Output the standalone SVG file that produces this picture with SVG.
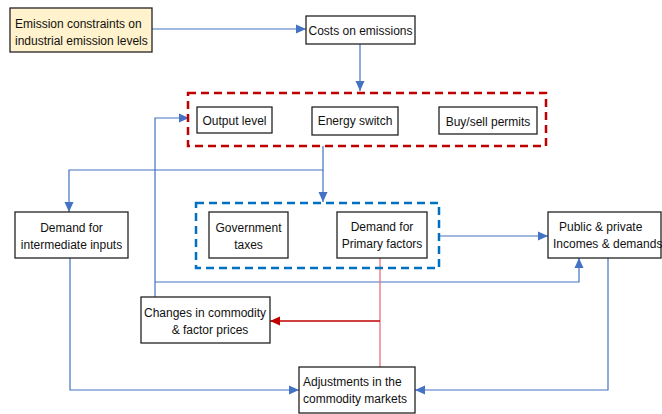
<svg xmlns="http://www.w3.org/2000/svg" width="662" height="414" viewBox="0 0 662 414">
<style>
.box{fill:#fff;stroke:#222;stroke-width:1.3}
.t{font-family:"Liberation Sans",Arial,sans-serif;font-size:12px;fill:#111}
.c{text-anchor:middle}
.ln{fill:none;stroke:#4472C4;stroke-width:1.2}
</style>
<defs>
<marker id="ab" markerUnits="userSpaceOnUse" markerWidth="10" markerHeight="10" viewBox="0 0 10 10" refX="10" refY="5" orient="auto"><path d="M0,0.5 L10,5 L0,9.5 Z" fill="#4472C4"/></marker>
<marker id="ar" markerUnits="userSpaceOnUse" markerWidth="10" markerHeight="10" viewBox="0 0 10 10" refX="10" refY="5" orient="auto"><path d="M0,0.5 L10,5 L0,9.5 Z" fill="#C00000"/></marker>
</defs>
<rect width="662" height="414" fill="#fff"/>
<g id="connectors">
<path class="ln" d="M152,29 H306" marker-end="url(#ab)"/>
<path class="ln" d="M360,44 V91" marker-end="url(#ab)"/>
<path class="ln" d="M323,146 V170 H69 V212" marker-end="url(#ab)"/>
<path class="ln" d="M323,170 V202" marker-end="url(#ab)"/>
<path class="ln" d="M155,297 V118 H189" marker-end="url(#ab)"/>
<path class="ln" d="M155,282 H579 V258" marker-end="url(#ab)"/>
<path class="ln" d="M439,236 H548" marker-end="url(#ab)"/>
<path fill="none" stroke="#E8737A" stroke-width="1.3" d="M380,258 V367"/>
<path fill="none" stroke="#C00000" stroke-width="1.3" d="M380,321 H270" marker-end="url(#ar)"/>
<path class="ln" d="M70,258 V390 H299" marker-end="url(#ab)"/>
<path class="ln" d="M608,258 V390 H415" marker-end="url(#ab)"/>
</g>
<g id="red-group"><rect x="188" y="93" width="358" height="53" fill="none" stroke="#C00000" stroke-width="2.5" stroke-dasharray="8,5"/></g>
<g id="blue-group"><rect x="196" y="203" width="243" height="65" fill="none" stroke="#0070C0" stroke-width="2.5" stroke-dasharray="8,5"/></g>
<g id="emission"><rect x="10" y="8" width="142" height="44" fill="#FFF2CC" stroke="#222" stroke-width="1.3"/>
<text class="t" x="15" y="28">Emission constraints on</text><text class="t" x="15" y="45">industrial emission levels</text></g>
<g id="costs"><rect class="box" x="306" y="16" width="109" height="28"/><text class="t c" x="360.5" y="35">Costs on emissions</text></g>
<g id="output"><rect class="box" x="197" y="107" width="75" height="26"/><text class="t c" x="234.5" y="125">Output level</text></g>
<g id="energy"><rect class="box" x="312" y="107" width="86" height="28"/><text class="t c" x="355" y="125">Energy switch</text></g>
<g id="permits"><rect class="box" x="439" y="107" width="98" height="27"/><text class="t c" x="488" y="126">Buy/sell permits</text></g>
<g id="intermediate"><rect class="box" x="15" y="212" width="113" height="46"/><text class="t c" x="71.5" y="232">Demand for</text><text class="t c" x="71.5" y="249">intermediate inputs</text></g>
<g id="taxes"><rect class="box" x="209" y="212" width="79" height="46"/><text class="t c" x="248.5" y="232">Government</text><text class="t c" x="248.5" y="249">taxes</text></g>
<g id="primary"><rect class="box" x="337" y="212" width="90" height="46"/><text class="t c" x="382" y="231">Demand for</text><text class="t c" x="382" y="248">Primary factors</text></g>
<g id="public"><rect class="box" x="548" y="212" width="113" height="46"/><text class="t" x="559" y="231">Public &amp; private</text><text class="t" x="553" y="248">Incomes &amp; demands</text></g>
<g id="changes"><rect class="box" x="141" y="297" width="129" height="46"/><text class="t c" x="205" y="317">Changes in commodity</text><text class="t c" x="210" y="334">&amp; factor prices</text></g>
<g id="adjustments"><rect class="box" x="299" y="367" width="116" height="46"/><text class="t" x="303" y="386">Adjustments in the</text><text class="t" x="303" y="403">commodity markets</text></g>
</svg>
